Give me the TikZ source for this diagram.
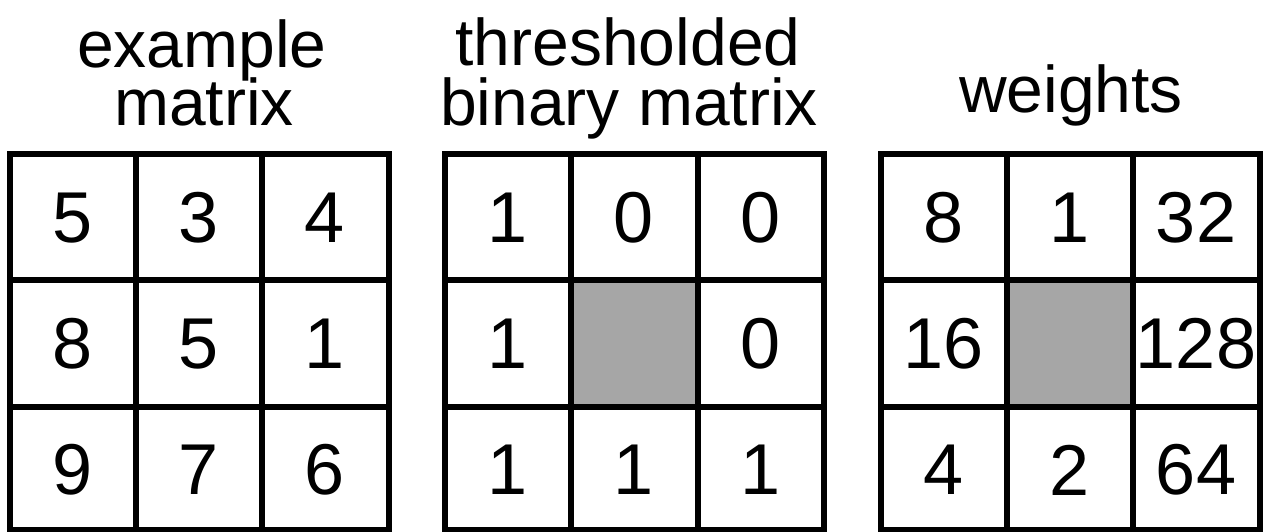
\documentclass[tikz,border=0pt]{standalone}
\usepackage{fontspec}
\setmainfont{Liberation Sans}
\definecolor{cellgray}{HTML}{A6A6A6}
\tikzset{
  gridline/.style={line width=6pt, line cap=rect, line join=miter},
  digit/.style={inner sep=0pt, font=\fontsize{72}{80}\selectfont},
  title/.style={inner sep=0pt, anchor=base, font=\fontsize{66}{72}\selectfont},
}
\begin{document}
\begin{tikzpicture}[x=1pt,y=-1pt]
\useasboundingbox (0,0) rectangle (1269,531);
% titles
\node[title] (t1a) at (202,67) {example};
\node[title] (t1b) at (204,125) {matrix};
\node[title] (t2a) at (628,65) {thresholded};
\node[title] (t2b) at (629,125) {binary matrix};
\node[title] (t3) at (1071,112) {weights};
% gray centre cells
\fill[cellgray] (570.5,280) rectangle (698,406.5);
\fill[cellgray] (1007,280) rectangle (1133,406.5);
% grids
\draw[gridline] (9.5,153.5) rectangle (388.5,530);
\draw[gridline] (136,153.5) -- (136,530) (262,153.5) -- (262,530)
  (9.5,280) -- (388.5,280) (9.5,406.5) -- (388.5,406.5);
\draw[gridline] (445,153.5) rectangle (823.5,530);
\draw[gridline] (570.5,153.5) -- (570.5,530) (698,153.5) -- (698,530)
  (445,280) -- (823.5,280) (445,406.5) -- (823.5,406.5);
\draw[gridline] (881,153.5) rectangle (1259.5,530);
\draw[gridline] (1007,153.5) -- (1007,530) (1133,153.5) -- (1133,530)
  (881,280) -- (1259.5,280) (881,406.5) -- (1259.5,406.5);
% example matrix
\node[digit] (a11) at (73,218) {5};
\node[digit] (a12) at (199,218) {3};
\node[digit] (a13) at (325,218) {4};
\node[digit] (a21) at (73,344) {8};
\node[digit] (a22) at (199,344) {5};
\node[digit] (a23) at (325,344) {1};
\node[digit] (a31) at (73,470) {9};
\node[digit] (a32) at (199,470) {7};
\node[digit] (a33) at (325,470) {6};
% thresholded binary matrix
\node[digit] (b11) at (508,218) {1};
\node[digit] (b12) at (634,218) {0};
\node[digit] (b13) at (761,218) {0};
\node[digit] (b21) at (508,344) {1};
\node[digit] (b23) at (761,344) {0};
\node[digit] (b31) at (508,470) {1};
\node[digit] (b32) at (634,470) {1};
\node[digit] (b33) at (761,470) {1};
% weights
\node[digit] (c11) at (944,218) {8};
\node[digit] (c12) at (1070,218) {1};
\node[digit] (c13) at (1196,218) {32};
\node[digit] (c21) at (944,344) {16};
\node[digit] (c23) at (1196,344) {128};
\node[digit] (c31) at (944,470) {4};
\node[digit] (c32) at (1070,470) {2};
\node[digit] (c33) at (1196,470) {64};
\end{tikzpicture}
\end{document}
